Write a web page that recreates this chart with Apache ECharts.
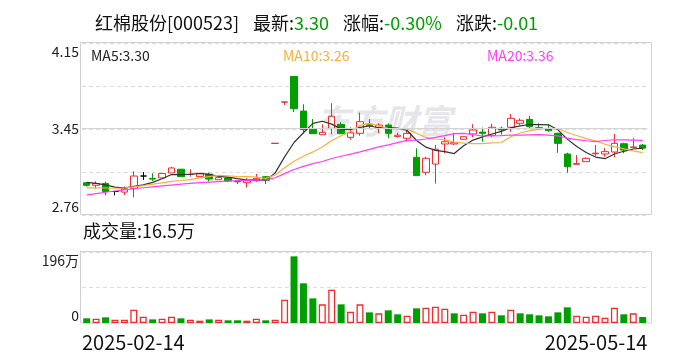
<!DOCTYPE html>
<html>
<head>
<meta charset="utf-8">
<title>红棉股份</title>
<script src="https://cdn.jsdelivr.net/npm/echarts@6.0.0/dist/echarts.min.js"></script>
<style>
html,body{margin:0;padding:0;background:#fff;}
#kline{width:688px;height:360px;}
</style>
</head>
<body>
<div id="kline"></div>
<script>
// 交易日
var dates = ['2025-02-14','2025-02-17','2025-02-18','2025-02-19','2025-02-20','2025-02-21','2025-02-24','2025-02-25','2025-02-26','2025-02-27','2025-02-28',
    '2025-03-03','2025-03-04','2025-03-05','2025-03-06','2025-03-07','2025-03-10','2025-03-11','2025-03-12','2025-03-13','2025-03-14',
    '2025-03-17','2025-03-18','2025-03-19','2025-03-20','2025-03-21','2025-03-24','2025-03-25','2025-03-26','2025-03-27','2025-03-28','2025-03-31',
    '2025-04-01','2025-04-02','2025-04-03','2025-04-07','2025-04-08','2025-04-09','2025-04-10','2025-04-11','2025-04-14','2025-04-15','2025-04-16',
    '2025-04-17','2025-04-18','2025-04-21','2025-04-22','2025-04-23','2025-04-24','2025-04-25','2025-04-28','2025-04-29','2025-04-30',
    '2025-05-06','2025-05-07','2025-05-08','2025-05-09','2025-05-12','2025-05-13','2025-05-14'];

var opens = [3.02,3.00,3.015,2.95,2.945,2.975,3.075,3.055,3.06,3.10,
    3.13,3.087,3.07,3.09,3.045,3.06,3.032,3.021,3.037,3.07,
    3.338,3.672,3.88,3.60,3.453,3.409,3.461,3.493,3.388,3.42,
    3.495,3.469,3.487,3.395,3.38,3.226,3.105,3.172,3.334,3.334,
    3.372,3.415,3.43,3.404,3.461,3.469,3.501,3.533,3.465,3.457,
    3.42,3.253,3.17,3.191,3.255,3.253,3.269,3.336,3.305,3.325];
var closes = [3.00,3.015,2.95,2.95,2.97,3.075,3.075,3.05,3.095,3.14,
    3.07,3.09,3.092,3.05,3.062,3.035,3.028,3.037,3.057,3.04,
    3.34,3.674,3.62,3.45,3.417,3.428,3.558,3.417,3.425,3.514,
    3.483,3.487,3.42,3.405,3.42,3.078,3.218,3.291,3.352,3.344,
    3.393,3.447,3.42,3.469,3.447,3.541,3.525,3.474,3.463,3.441,
    3.339,3.15,3.175,3.218,3.26,3.272,3.339,3.285,3.31,3.30];
var lows = [2.99,2.973,2.919,2.919,2.922,2.903,3.043,3.035,3.06,3.10,
    3.07,3.07,3.07,3.03,3.045,3.025,3.01,2.984,3.029,3.01,
    3.338,3.65,3.592,3.42,3.417,3.409,3.412,3.417,3.369,3.401,
    3.46,3.42,3.38,3.385,3.352,3.078,3.081,3.013,3.259,3.326,
    3.372,3.388,3.352,3.388,3.41,3.433,3.487,3.461,3.453,3.433,
    3.263,3.102,3.17,3.191,3.237,3.231,3.226,3.259,3.305,3.285];
var highs = [3.025,3.032,3.03,2.956,2.99,3.113,3.107,3.097,3.097,3.15,
    3.132,3.13,3.095,3.102,3.066,3.065,3.043,3.057,3.091,3.075,
    3.34,3.674,3.883,3.655,3.536,3.493,3.663,3.51,3.469,3.587,
    3.535,3.501,3.50,3.425,3.441,3.299,3.231,3.326,3.388,3.425,
    3.393,3.493,3.466,3.498,3.474,3.576,3.541,3.56,3.501,3.493,
    3.425,3.263,3.245,3.226,3.326,3.30,3.415,3.344,3.38,3.334];
// 成交量(万)
var vols = [12.9,12,15.6,9.2,9.2,36.8,17.5,10,12,17.5,
    12.9,9.2,6.4,10,9.2,7.4,7.4,6.4,12,7.4,
    9.2,64,184,109.5,68,51.5,92,51.5,31,51.5,
    29.4,26.7,35,24,20,40.5,42.3,45,39.6,26.7,
    23,31.3,26.7,31.3,21.2,36.8,26.7,24,21.2,18.4,
    29.4,43.2,20.2,17.5,20.2,14.7,42.3,24,26.7,16.5];
// 区间开始前的均线值
var ma5Head = [3.024,3.016,3.003,2.985];
var ma10Head = [2.98,2.98,2.978,2.976,2.978,2.988,2.998,3.01,3.02];
var ma20Head = [2.922,2.933,2.944,2.954,2.963,2.972,2.98,2.988,2.995,3.002,
    3.009,3.015,3.021,3.026,3.03,3.034,3.037,3.04,3.042];

var priceTicks = ['2.76','','3.45','','4.15'];
var volTicks = ['0','','196万'];

var RED = '#f22b2b', GREEN = '#009f00';
var FONT = 'Noto Sans CJK SC';

var priceMin = parseFloat(priceTicks[0]), priceMax = parseFloat(priceTicks[4]);
var priceStep = (priceMax - priceMin) / 4;
var volMax = parseFloat(volTicks[2]);

function calcMA(n, head){
    var out = [];
    for(var i=0; i<closes.length; i++){
        if(i < head.length){ out.push(head[i]); continue; }
        var s = 0;
        for(var j=i-n+1; j<=i; j++) s += closes[j];
        out.push(+(s/n).toFixed(4));
    }
    return out;
}
var ma5 = calcMA(5, ma5Head), ma10 = calcMA(10, ma10Head), ma20 = calcMA(20, ma20Head);

var kData = [];
for(var i=0; i<opens.length; i++){
    kData.push([opens[i], closes[i], lows[i], highs[i]]);
}
var volData = vols.map(function(v, i){
    var prev = i > 0 ? closes[i-1] : opens[0];
    if(closes[i] >= prev){
        return {value: v, itemStyle: {color: '#fff', borderColor: RED, borderWidth: 1.3}};
    }
    return {value: v, itemStyle: {color: GREEN}};
});
var last = closes.length - 1;

var myChart = echarts.init(document.getElementById('kline'));
var option = {
    animation: false,
    textStyle: {fontFamily: FONT},
    title: {
        left: 90, top: 9,
        text: '{k|红棉股份[000523]}{s| }{k|最新:}{g|3.30}{s| }{k|涨幅:}{g|-0.30%}{s| }{k|涨跌:}{g|-0.01}',
        textStyle: {
            fontWeight: 'normal',
            rich: {
                k: {fontSize: 18, color: '#111', fontWeight: 'normal', fontFamily: FONT},
                g: {fontSize: 18, color: GREEN, fontWeight: 'normal', fontFamily: FONT},
                s: {fontSize: 18, width: 14}
            }
        }
    },
    graphic: [
        {type: 'rect', silent: true, z: 0, shape: {x: 80.5, y: 42.5, width: 571, height: 172}, style: {fill: 'none', stroke: '#d0d0d8', lineWidth: 1}},
        {type: 'rect', silent: true, z: 0, shape: {x: 80.5, y: 251.5, width: 571, height: 71.5}, style: {fill: 'none', stroke: '#d0d0d8', lineWidth: 1}},
        {type: 'text', silent: true, z: 0, left: 316, top: 104,
            style: {text: '东方财富', font: 'italic bold 34px "Noto Sans CJK SC"', fill: '#e6e6ea'}},
        {type: 'text', silent: true, left: 91, top: 49,
            style: {text: 'MA5:' + ma5[last].toFixed(2), font: '14px "Noto Sans CJK SC"', fill: '#222'}},
        {type: 'text', silent: true, left: 283, top: 49,
            style: {text: 'MA10:' + ma10[last].toFixed(2), font: '14px "Noto Sans CJK SC"', fill: '#f6b03c'}},
        {type: 'text', silent: true, left: 487, top: 49,
            style: {text: 'MA20:' + ma20[last].toFixed(2), font: '14px "Noto Sans CJK SC"', fill: '#ff3cff'}},
        {type: 'text', silent: true, left: 83, top: 222,
            style: {text: '成交量:' + vols[last] + '万', font: '18px "Noto Sans CJK SC"', fill: '#111'}}
    ],
    grid: [
        {left: 82, right: 40.6, top: 43, height: 172},
        {left: 82, right: 40.6, top: 252, height: 71}
    ],
    xAxis: [
        {type: 'category', gridIndex: 0, data: dates, boundaryGap: true,
            axisLine: {show: false}, axisTick: {show: false}, axisLabel: {show: false}, splitLine: {show: false}},
        {type: 'category', gridIndex: 1, data: dates, boundaryGap: true,
            axisLine: {show: false}, axisTick: {show: false}, axisLabel: {show: false}, splitLine: {show: false}},
        {type: 'category', gridIndex: 1, data: dates, boundaryGap: false, position: 'bottom',
            axisLine: {show: false}, axisTick: {show: false}, splitLine: {show: false},
            axisLabel: {
                fontSize: 20, color: '#111', margin: 9,
                interval: function(i){ return i === 0 || i === dates.length - 1; },
                alignMinLabel: 'left', alignMaxLabel: 'right'
            }}
    ],
    yAxis: [
        {type: 'value', gridIndex: 0, min: priceMin, max: priceMax, interval: priceStep,
            axisLine: {show: false}, axisTick: {show: false},
            splitLine: {lineStyle: {color: '#dcdcdc', type: [4, 3]}},
            axisLabel: {
                margin: 3, fontSize: 14, color: '#222',
                formatter: function(v){
                    var k = Math.round((v - priceMin) / priceStep);
                    var t = priceTicks[k] || '';
                    if(!t) return '';
                    if(k === 4) return '{t|' + t + '}';
                    if(k === 0) return '{b|' + t + '}';
                    return '{m|' + t + '}';
                },
                rich: {
                    t: {fontSize: 14, color: '#222', padding: [17, 0, 0, 0]},
                    b: {fontSize: 14, color: '#222', padding: [0, 0, 16, 0]},
                    m: {fontSize: 14, color: '#222'}
                }
            }},
        {type: 'value', gridIndex: 1, min: 0, max: volMax, interval: volMax / 2,
            axisLine: {show: false}, axisTick: {show: false},
            splitLine: {lineStyle: {color: '#dcdcdc', type: [4, 3]}},
            axisLabel: {
                margin: 3, fontSize: 14, color: '#222',
                formatter: function(v){
                    var k = Math.round(v / (volMax / 2));
                    var t = volTicks[k] || '';
                    if(!t) return '';
                    if(k === 2) return '{t|' + t + '}';
                    return '{b|' + t + '}';
                },
                rich: {
                    t: {fontSize: 14, color: '#222', padding: [17, 0, 0, 0]},
                    b: {fontSize: 14, color: '#222', padding: [0, 0, 14, 0]}
                }
            }}
    ],
    series: [
        {
            name: 'K', type: 'candlestick', xAxisIndex: 0, yAxisIndex: 0,
            data: kData, barWidth: 7, z: 2,
            itemStyle: {color: '#fff', color0: GREEN, borderColor: RED, borderColor0: GREEN, borderColorDoji: '#000', borderWidth: 1},
            markLine: {
                silent: true, symbol: 'none', label: {show: false},
                lineStyle: {color: '#d4d4d4', type: 'solid', width: 1},
                data: [{yAxis: priceMin + priceStep * 2}]
            }
        },
        {name: 'MA5', type: 'line', xAxisIndex: 0, yAxisIndex: 0, data: ma5, showSymbol: false, z: 3,
            lineStyle: {color: '#333', width: 1.2}},
        {name: 'MA10', type: 'line', xAxisIndex: 0, yAxisIndex: 0, data: ma10, showSymbol: false, z: 3,
            lineStyle: {color: '#f6b03c', width: 1.2}},
        {name: 'MA20', type: 'line', xAxisIndex: 0, yAxisIndex: 0, data: ma20, showSymbol: false, z: 3,
            lineStyle: {color: '#ff3cff', width: 1.2}},
        {name: '成交量', type: 'bar', xAxisIndex: 1, yAxisIndex: 1, data: volData, barWidth: 7}
    ]
};
myChart.setOption(option);
</script>
</body>
</html>
